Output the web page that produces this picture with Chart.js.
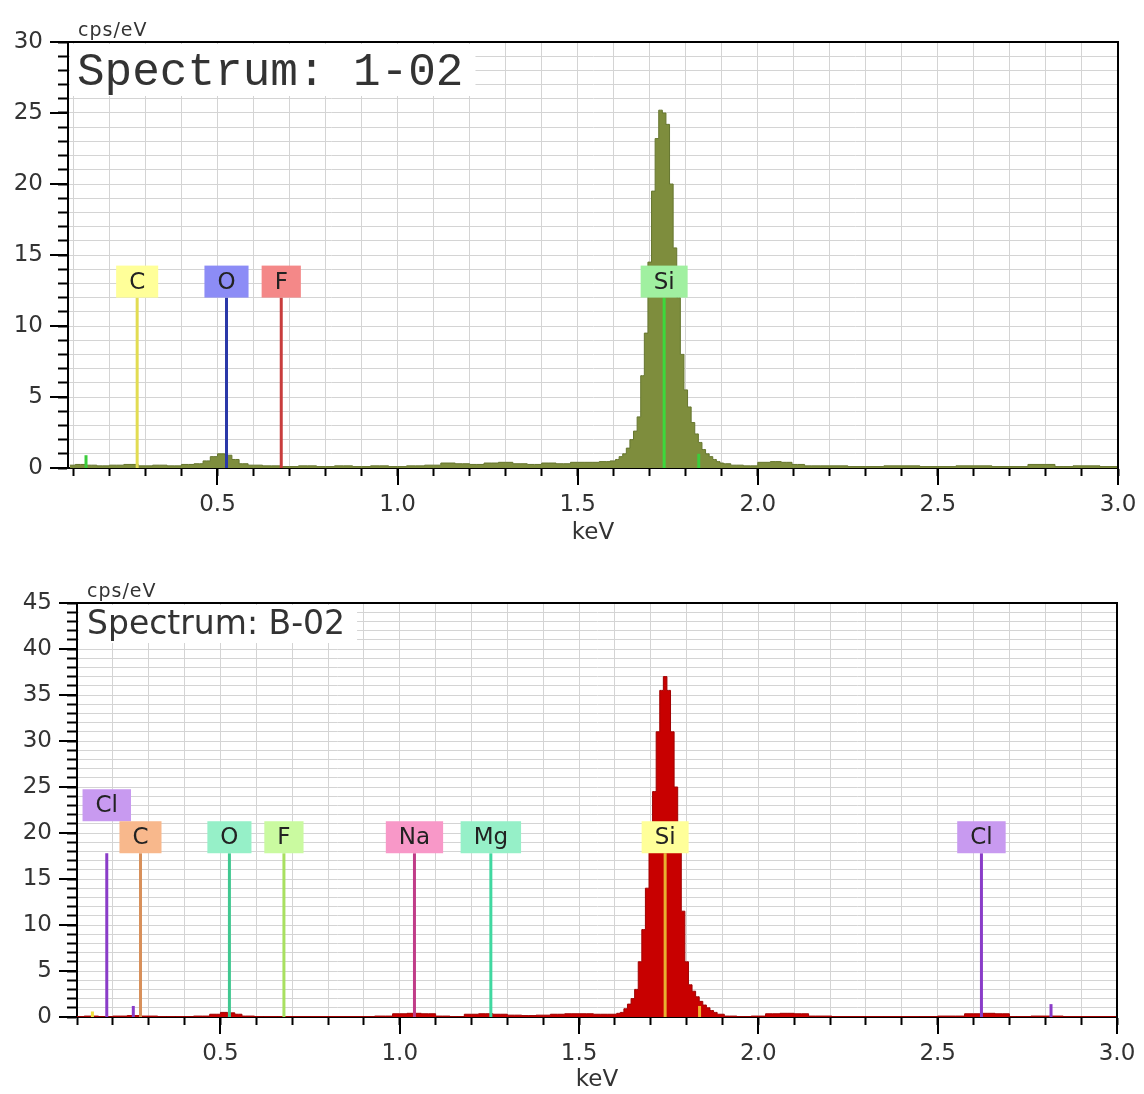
<!DOCTYPE html>
<html>
<head>
<meta charset="utf-8">
<script src="https://cdn.jsdelivr.net/npm/chart.js@4.4.1/dist/chart.umd.min.js"></script>
<style>
  body { margin: 0; background: #fff; }
  .panel { position: absolute; left: 0; width: 1144px; }
</style>
</head>
<body>
<div class="panel" style="top:0;height:550px"><canvas id="chartTop"></canvas></div>
<div class="panel" style="top:550px;height:544px"><canvas id="chartBottom"></canvas></div>
<script>
// ---- ticks ----
const xTicks = [0.1, 0.2, 0.3, 0.4, 0.5, 0.6, 0.7, 0.8, 0.9, 1.0, 1.1, 1.2, 1.3, 1.4, 1.5,
                1.6, 1.7, 1.8, 1.9, 2.0, 2.1, 2.2, 2.3, 2.4, 2.5, 2.6, 2.7, 2.8, 2.9, 3.0];
const xLabelled = [0.5, 1.0, 1.5, 2.0, 2.5, 3.0];

// ---- Spectrum 1-02 ----
const topEnergy = [
  0.09, 0.12, 0.15, 0.18, 0.22, 0.26, 0.30, 0.34, 0.38, 0.42, 0.45, 0.47, 0.49, 0.51, 0.53, 0.55, 0.57, 0.60,
  0.65, 0.70, 0.75, 0.80, 0.85, 0.90, 0.95, 1.00, 1.05, 1.10, 1.14, 1.18, 1.22, 1.26, 1.30, 1.34, 1.38,
  1.42, 1.46, 1.50, 1.54, 1.58,
  1.60, 1.61, 1.62, 1.63, 1.64, 1.65, 1.66, 1.67, 1.68, 1.69, 1.70, 1.71, 1.72, 1.73, 1.74, 1.75,
  1.76, 1.77, 1.78, 1.79, 1.80, 1.81, 1.82, 1.83, 1.84, 1.85, 1.86, 1.87, 1.88, 1.89, 1.90, 1.91,
  1.94, 1.98, 2.02, 2.05, 2.08, 2.11, 2.15, 2.20, 2.30, 2.40, 2.50, 2.60, 2.70, 2.80, 2.85, 2.90, 3.00
];
const topCounts = [
  0.2, 0.25, 0.2, 0.15, 0.2, 0.25, 0.15, 0.2, 0.15, 0.25, 0.3, 0.5, 0.8, 1.0, 0.9, 0.6, 0.3, 0.2,
  0.15, 0.1, 0.15, 0.1, 0.15, 0.1, 0.15, 0.1, 0.15, 0.2, 0.35, 0.3, 0.25, 0.35, 0.4, 0.3, 0.25,
  0.35, 0.3, 0.4, 0.4, 0.45,
  0.5, 0.6, 0.8, 1.0, 1.4, 2.0, 2.6, 3.6, 6.5, 9.5, 14.5, 19.5, 23.2, 25.2, 25.0, 24.2,
  20.0, 15.5, 12.0, 8.0, 5.5, 4.3, 3.2, 2.4, 1.8, 1.3, 1.0, 0.8, 0.6, 0.45, 0.35, 0.3,
  0.2, 0.15, 0.4, 0.45, 0.4, 0.25, 0.15, 0.15, 0.1, 0.15, 0.1, 0.15, 0.1, 0.25, 0.1, 0.15, 0.1
];
const topElem = ['C', 'O', 'F', 'Si'];
const topElemKeV = [0.277, 0.525, 0.677, 1.740];
const topElemH = [12, 12, 12, 12];
const topElemRow = [0, 0, 0, 0];
const topElemLine = ['#e2dc52', '#2a38a8', '#c83c3c', '#3cd83c'];
const topElemBox = ['#ffff99', '#8c8cf6', '#f48888', '#a0f0a0'];
const topMarkKeV = [0.135, 1.836];
const topMarkH = [0.9, 1.0];
const topMarkColor = ['#3ccc3c', '#3ccc3c'];

// ---- Spectrum B-02 ----
const botEnergy = [
  0.10, 0.14, 0.18, 0.22, 0.26, 0.30, 0.35, 0.40, 0.45, 0.49, 0.51, 0.53, 0.55, 0.57, 0.62, 0.70, 0.80, 0.90,
  0.96, 1.00, 1.04, 1.08, 1.12, 1.16, 1.20, 1.24, 1.28, 1.32, 1.36, 1.40, 1.44, 1.48, 1.52, 1.56,
  1.60, 1.61, 1.62, 1.63, 1.64, 1.65, 1.66, 1.67, 1.68, 1.69,
  1.70, 1.71, 1.72, 1.73, 1.74, 1.75, 1.76, 1.77, 1.78, 1.79,
  1.80, 1.81, 1.82, 1.83, 1.84, 1.85, 1.86, 1.87, 1.88, 1.89,
  1.92, 1.96, 2.00, 2.04, 2.08, 2.12, 2.16, 2.25, 2.35, 2.45, 2.55, 2.60, 2.64, 2.68, 2.72, 2.80, 2.90, 3.00
];
const botCounts = [
  0.05, 0.1, 0.05, 0.1, 0.15, 0.1, 0.05, 0.05, 0.1, 0.3, 0.5, 0.45, 0.3, 0.1, 0.05, 0.05, 0.05, 0.05,
  0.1, 0.35, 0.4, 0.35, 0.1, 0.05, 0.3, 0.35, 0.3, 0.2, 0.15, 0.2, 0.3, 0.35, 0.35, 0.3,
  0.3, 0.4, 0.5, 0.9, 1.4, 2.0, 3.0, 6.0, 9.5, 14.0,
  19.5, 24.5, 31.0, 35.5, 37.0, 35.5, 31.0, 25.0, 19.0, 11.5,
  6.0, 3.5, 2.8, 2.2, 1.7, 1.3, 1.0, 0.7, 0.5, 0.3,
  0.1, 0.05, 0.1, 0.35, 0.4, 0.35, 0.1, 0.05, 0.05, 0.05, 0.1, 0.35, 0.4, 0.35, 0.05, 0.1, 0.05, 0.05
];
const botElem = ['Cl', 'C', 'O', 'F', 'Na', 'Mg', 'Si', 'Cl'];
const botElemKeV = [0.183, 0.277, 0.525, 0.677, 1.041, 1.254, 1.740, 2.622];
const botElemH = [17.8, 17.8, 17.8, 17.8, 17.8, 17.8, 17.8, 17.8];
const botElemRow = [1, 0, 0, 0, 0, 0, 0, 0];
const botElemLine = ['#8a3cc8', '#d8905a', '#40c890', '#a8e060', '#c03c88', '#40d8a0', '#e8b030', '#8a3cc8'];
const botElemBox = ['#c89af0', '#f8b88c', '#96f0c8', '#cafaa0', '#f898c8', '#96f0c8', '#ffff99', '#c89af0'];
const botMarkKeV = [0.143, 0.257, 1.836, 2.816];
const botMarkH = [0.6, 1.2, 1.2, 1.4];
const botMarkColor = ['#f0e040', '#8a3cc8', '#f0b030', '#8a3cc8'];

// ---- decoracion: titulo, unidad, etiquetas de elementos, ticks mayores, marco ----
const deco = {
  id: 'deco',
  beforeDatasetsDraw(chart, args, o) {
    const a = chart.chartArea, ctx = chart.ctx;
    ctx.save();
    ctx.font = o.titleFont;
    const w = ctx.measureText(o.title).width + 10;
    ctx.fillStyle = '#fff';
    ctx.fillRect(a.left + 2, a.top + 2, w + o.titleX, o.titleBoxH);
    ctx.fillStyle = '#333';
    ctx.textBaseline = 'alphabetic';
    ctx.fillText(o.title, a.left + o.titleX, a.top + o.titleBase);
    ctx.restore();
  },
  afterDraw(chart, args, o) {
    const a = chart.chartArea, ctx = chart.ctx;
    const xs = chart.scales.x, ys = chart.scales.y;
    ctx.save();
    // marco arriba y derecha
    ctx.strokeStyle = '#000';
    ctx.lineWidth = 2;
    ctx.beginPath();
    ctx.moveTo(a.left, a.top);
    ctx.lineTo(a.right, a.top);
    ctx.lineTo(a.right, a.bottom);
    ctx.stroke();
    // ticks mayores
    ctx.beginPath();
    for (let v = ys.min; v <= ys.max; v += 5) {
      const y = Math.round(ys.getPixelForValue(v));
      ctx.moveTo(a.left - 18, y);
      ctx.lineTo(a.left, y);
    }
    xLabelled.forEach(v => {
      const x = Math.round(xs.getPixelForValue(v));
      ctx.moveTo(x, a.bottom);
      ctx.lineTo(x, a.bottom + 17);
    });
    ctx.stroke();
    // unidad
    ctx.fillStyle = '#333';
    ctx.font = '19px "DejaVu Sans"';
    ctx.letterSpacing = '1px';
    ctx.textBaseline = 'alphabetic';
    ctx.fillText('cps/eV', a.left + o.unitX, a.top - 6);
    ctx.letterSpacing = '0px';
    // etiquetas de elementos
    const boxH = 32;
    ctx.font = '23px "DejaVu Sans"';
    ctx.textAlign = 'center';
    ctx.textBaseline = 'middle';
    o.names.forEach((n, i) => {
      const x = xs.getPixelForValue(o.kev[i]);
      const yb = ys.getPixelForValue(o.h[i]) - o.row[i] * boxH;
      const w = ctx.measureText(n).width + 26;
      ctx.fillStyle = o.box[i];
      ctx.fillRect(x - w / 2, yb - boxH, w, boxH);
      ctx.fillStyle = '#222';
      ctx.fillText(n, x, yb - boxH / 2 + 1);
    });
    ctx.restore();
  }
};

function makeChart(id, s) {
  const datasets = [];
  s.names.forEach((n, i) => {
    datasets.push({
      data: [{ x: s.kev[i], y: 0 }, { x: s.kev[i], y: s.h[i] }],
      borderColor: s.line[i], borderWidth: 3, pointRadius: 0, fill: false, order: 1
    });
  });
  s.markKeV.forEach((e, i) => {
    datasets.push({
      data: [{ x: e, y: 0 }, { x: e, y: s.markH[i] }],
      borderColor: s.markColor[i], borderWidth: 3, pointRadius: 0, fill: false, order: 1
    });
  });
  datasets.push({
    data: s.energy.map((e, i) => ({ x: e, y: s.counts[i] })),
    stepped: 'middle',
    fill: 'origin',
    backgroundColor: s.fillColor,
    borderColor: s.lineColor,
    borderWidth: 1,
    pointRadius: 0,
    order: 2
  });

  return new Chart(document.getElementById(id), {
    type: 'line',
    data: { datasets },
    options: {
      responsive: true,
      maintainAspectRatio: false,
      animation: false,
      layout: { padding: { top: s.padTop, right: s.padRight, bottom: s.padBottom, left: 0 } },
      plugins: {
        legend: { display: false },
        tooltip: { enabled: false },
        deco: {
          title: s.title, titleFont: s.titleFont, titleX: s.titleX, titleBase: s.titleBase,
          titleBoxH: s.titleBoxH, unitX: 10,
          names: s.names, kev: s.kev, h: s.h, row: s.row, box: s.box
        }
      },
      scales: {
        x: {
          type: 'linear',
          min: s.xMin, max: 3.0,
          afterBuildTicks: sc => { sc.ticks = xTicks.filter(v => v >= sc.min && v <= sc.max).map(v => ({ value: v })); },
          afterFit: sc => { sc.height = s.xHeight; sc.paddingLeft = 0; sc.paddingRight = 0; },
          ticks: {
            autoSkip: false, maxRotation: 0, padding: 15, color: '#333',
            font: { family: 'DejaVu Sans', size: 23 },
            callback: v => xLabelled.some(l => Math.abs(l - v) < 1e-6) ? v.toFixed(1) : ''
          },
          grid: { color: '#d4d4d4', lineWidth: 1, tickColor: '#000', tickLength: 8, tickWidth: 2 },
          border: { color: '#000', width: 2 },
          title: { display: true, text: 'keV', color: '#333', font: { family: 'DejaVu Sans', size: 23 }, padding: { top: 0, bottom: s.titlePad } }
        },
        y: {
          min: 0, max: s.yMax,
          afterFit: sc => { sc.width = s.yWidth; },
          ticks: {
            stepSize: 1, autoSkip: false, padding: 15, color: '#333',
            font: { family: 'DejaVu Sans', size: 23 },
            callback: v => v % 5 === 0 ? v : ''
          },
          grid: { color: '#d4d4d4', lineWidth: 1, tickColor: '#000', tickLength: 10, tickWidth: 2 },
          border: { color: '#000', width: 2 }
        }
      }
    },
    plugins: [deco]
  });
}

makeChart('chartTop', {
  energy: topEnergy, counts: topCounts,
  fillColor: '#7e8d3d', lineColor: '#66762f',
  names: topElem, kev: topElemKeV, h: topElemH, row: topElemRow, line: topElemLine, box: topElemBox,
  markKeV: topMarkKeV, markH: topMarkH, markColor: topMarkColor,
  title: 'Spectrum: 1-02', titleFont: '46px "Liberation Mono"', titleX: 9, titleBase: 43, titleBoxH: 52,
  xMin: 0.085, yMax: 30, yWidth: 68, xHeight: 80,
  padTop: 42, padRight: 26, padBottom: 2, titlePad: 1
});

makeChart('chartBottom', {
  energy: botEnergy, counts: botCounts,
  fillColor: '#c80000', lineColor: '#a00000',
  names: botElem, kev: botElemKeV, h: botElemH, row: botElemRow, line: botElemLine, box: botElemBox,
  markKeV: botMarkKeV, markH: botMarkH, markColor: botMarkColor,
  title: 'Spectrum: B-02', titleFont: '33px "DejaVu Sans"', titleX: 10, titleBase: 31, titleBoxH: 38,
  xMin: 0.1, yMax: 45, yWidth: 77, xHeight: 77,
  padTop: 53, padRight: 27, padBottom: 0, titlePad: 0
});
</script>
</body>
</html>
